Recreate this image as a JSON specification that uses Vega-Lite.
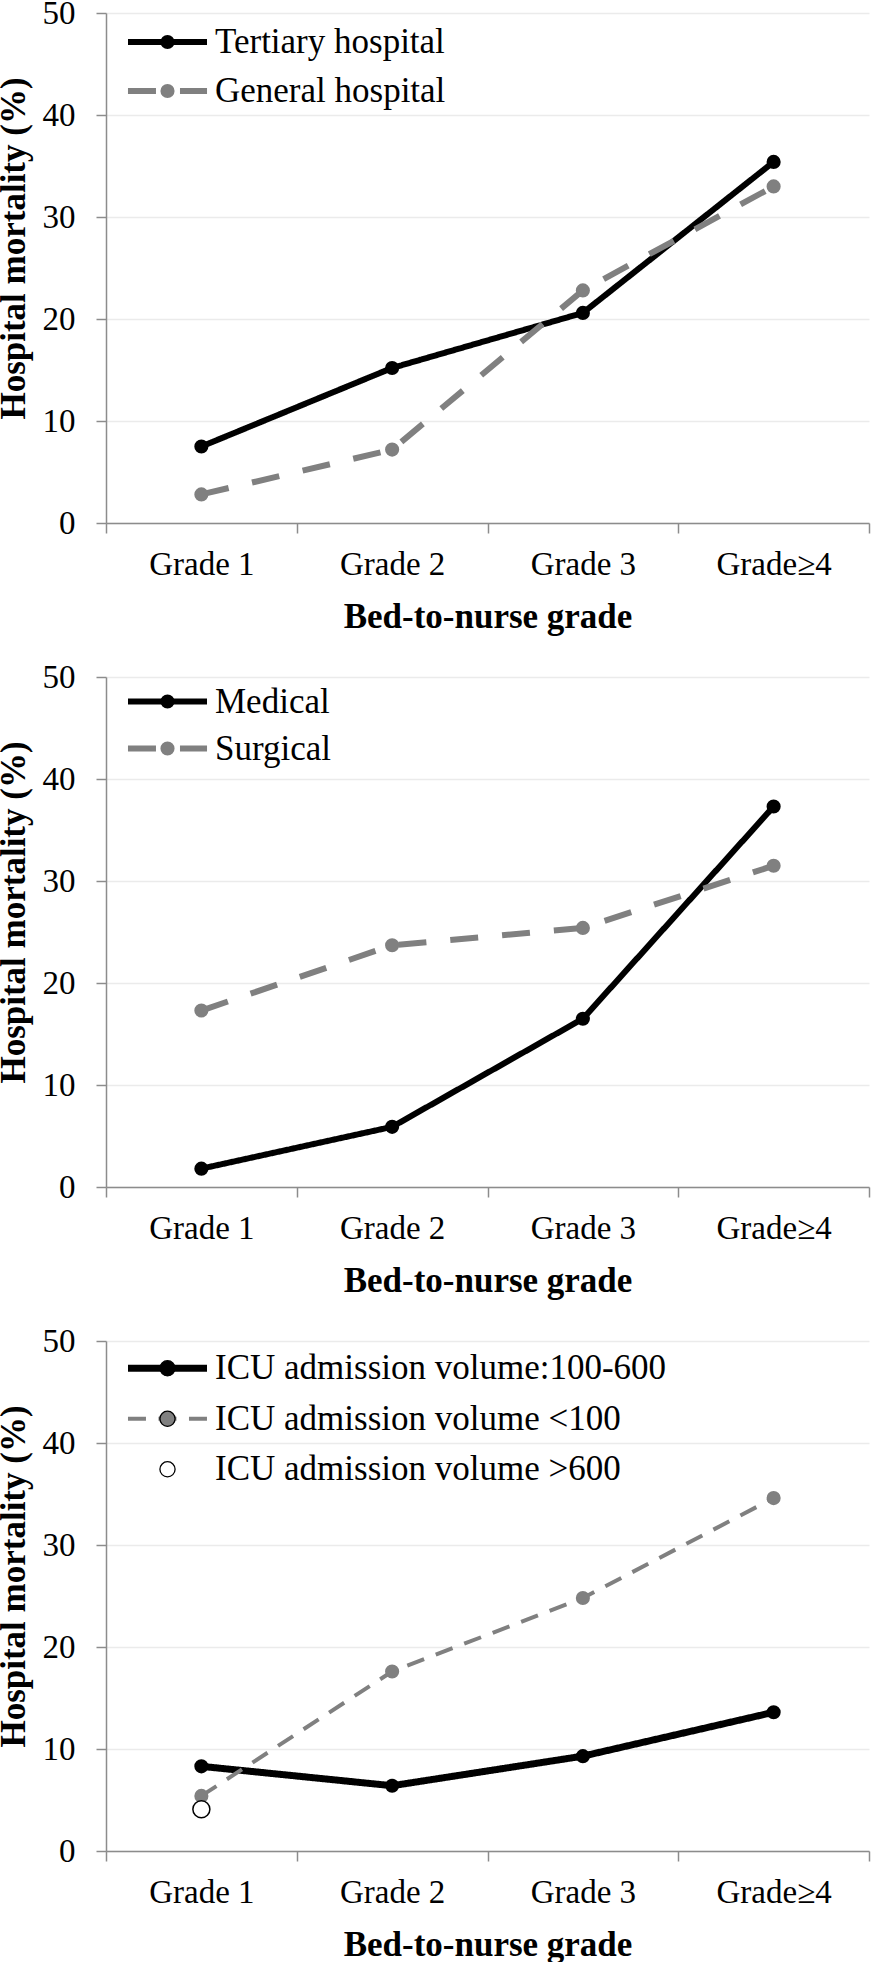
{
  "$schema": "https://vega.github.io/schema/vega-lite/v6.json",
  "padding": {"left": -4, "top": -3, "right": 4, "bottom": 0},
  "background": "white",
  "config": {
    "font": "Liberation Serif",
    "view": {"stroke": null},
    "legend": {"labelLimit": 0},
    "axisX": {
      "grid": false, "tickBand": "extent", "domainColor": "#8c8c8c", "domainWidth": 1.5,
      "tickColor": "#8c8c8c", "tickWidth": 1.5, "tickSize": 10, "labelFontSize": 33, "labelColor": "black",
      "labelPadding": 15, "labelAngle": 0, "titleFontSize": 35, "titleFontWeight": "bold",
      "titleColor": "black", "titlePadding": 18
    },
    "axisY": {
      "grid": true, "gridColor": "#ebebeb", "gridWidth": 1.5, "domainColor": "#8c8c8c", "domainWidth": 1.5,
      "tickColor": "#8c8c8c", "tickWidth": 1.5, "tickSize": 10, "labelFontSize": 33, "labelColor": "black",
      "labelPadding": 21, "titleFontSize": 35, "titleFontWeight": "bold", "titleColor": "black",
      "titlePadding": 11, "titleY": 235
    }
  },
  "spacing": 154,
  "bounds": "flush",
  "resolve": {
    "scale": {"stroke": "independent", "strokeDash": "independent", "fill": "independent", "strokeWidth": "independent", "x": "independent", "y": "independent"},
    "legend": {"stroke": "independent", "strokeDash": "independent", "fill": "independent", "strokeWidth": "independent"}
  },
  "vconcat": [
    {
      "width": 763, "height": 510,
      "data": {"values": [
        {"grade": "Grade 1", "series": "Tertiary hospital", "value": 7.5},
        {"grade": "Grade 2", "series": "Tertiary hospital", "value": 15.2},
        {"grade": "Grade 3", "series": "Tertiary hospital", "value": 20.6},
        {"grade": "Grade≥4", "series": "Tertiary hospital", "value": 35.4},
        {"grade": "Grade 1", "series": "General hospital", "value": 2.8},
        {"grade": "Grade 2", "series": "General hospital", "value": 7.2},
        {"grade": "Grade 3", "series": "General hospital", "value": 22.8},
        {"grade": "Grade≥4", "series": "General hospital", "value": 33.0}
      ]},
      "encoding": {
        "x": {"field": "grade", "type": "nominal", "sort": ["Grade 1", "Grade 2", "Grade 3", "Grade≥4"],
              "scale": {"type": "band", "paddingInner": 0, "paddingOuter": 0}, "title": "Bed-to-nurse grade"},
        "y": {"field": "value", "type": "quantitative", "scale": {"domain": [0, 50], "nice": false},
              "axis": {"values": [0, 10, 20, 30, 40, 50]}, "title": "Hospital mortality (%)"}
      },
      "layer": [
        {
          "mark": {"type": "line", "strokeCap": "butt", "strokeJoin": "round", "strokeWidth": 6},
          "encoding": {
            "stroke": {"field": "series", "type": "nominal",
              "scale": {"domain": ["Tertiary hospital", "General hospital"], "range": ["black", "#808080"]},
              "legend": {"orient": "none", "legendX": 0, "legendY": 11.5, "title": null, "padding": 0,
                "symbolType": "M-5.27,0H5.27", "symbolSize": 225, "symbolStrokeWidth": 6, "symbolOffset": 44,
                "labelOffset": 30, "labelFontSize": 35, "labelColor": "black", "rowPadding": 13}},
            "strokeDash": {"field": "series", "type": "nominal",
              "scale": {"domain": ["Tertiary hospital", "General hospital"], "range": [[1, 0], [28, 24]]},
              "legend": {"orient": "none", "legendX": 0, "legendY": 11.5, "title": null, "padding": 0,
                "symbolType": "M-5.27,0H5.27", "symbolSize": 225, "symbolStrokeWidth": 6, "symbolOffset": 44,
                "labelOffset": 30, "labelFontSize": 35, "labelColor": "black", "rowPadding": 13}}
          }
        },
        {
          "mark": {"type": "point", "filled": true, "size": 200, "opacity": 1},
          "encoding": {
            "fill": {"field": "series", "type": "nominal", "sort": ["Tertiary hospital", "General hospital"],
              "scale": {"range": ["black", "#808080"]},
              "legend": {"orient": "none", "legendX": 0, "legendY": 11.5, "title": null, "padding": 0,
                "symbolType": "circle", "symbolSize": 200, "symbolStrokeWidth": 0, "symbolOffset": 44,
                "labelOffset": 30, "labelFontSize": 35, "labelColor": "transparent", "rowPadding": 13}}
          }
        }
      ]
    },
    {
      "width": 763, "height": 510,
      "data": {"values": [
        {"grade": "Grade 1", "series": "Medical", "value": 1.8},
        {"grade": "Grade 2", "series": "Medical", "value": 5.9},
        {"grade": "Grade 3", "series": "Medical", "value": 16.5},
        {"grade": "Grade≥4", "series": "Medical", "value": 37.3},
        {"grade": "Grade 1", "series": "Surgical", "value": 17.3},
        {"grade": "Grade 2", "series": "Surgical", "value": 23.7},
        {"grade": "Grade 3", "series": "Surgical", "value": 25.4},
        {"grade": "Grade≥4", "series": "Surgical", "value": 31.5}
      ]},
      "encoding": {
        "x": {"field": "grade", "type": "nominal", "sort": ["Grade 1", "Grade 2", "Grade 3", "Grade≥4"],
              "scale": {"type": "band", "paddingInner": 0, "paddingOuter": 0}, "title": "Bed-to-nurse grade"},
        "y": {"field": "value", "type": "quantitative", "scale": {"domain": [0, 50], "nice": false},
              "axis": {"values": [0, 10, 20, 30, 40, 50]}, "title": "Hospital mortality (%)"}
      },
      "layer": [
        {
          "mark": {"type": "line", "strokeCap": "butt", "strokeJoin": "round", "strokeWidth": 6},
          "encoding": {
            "stroke": {"field": "series", "type": "nominal",
              "scale": {"domain": ["Medical", "Surgical"], "range": ["black", "#808080"]},
              "legend": {"orient": "none", "legendX": 0, "legendY": 7, "title": null, "padding": 0,
                "symbolType": "M-5.27,0H5.27", "symbolSize": 225, "symbolStrokeWidth": 6, "symbolOffset": 44,
                "labelOffset": 30, "labelFontSize": 35, "labelColor": "black", "rowPadding": 11}},
            "strokeDash": {"field": "series", "type": "nominal",
              "scale": {"domain": ["Medical", "Surgical"], "range": [[1, 0], [28, 24]]},
              "legend": {"orient": "none", "legendX": 0, "legendY": 7, "title": null, "padding": 0,
                "symbolType": "M-5.27,0H5.27", "symbolSize": 225, "symbolStrokeWidth": 6, "symbolOffset": 44,
                "labelOffset": 30, "labelFontSize": 35, "labelColor": "black", "rowPadding": 11}}
          }
        },
        {
          "mark": {"type": "point", "filled": true, "size": 200, "opacity": 1},
          "encoding": {
            "fill": {"field": "series", "type": "nominal", "sort": ["Medical", "Surgical"],
              "scale": {"range": ["black", "#808080"]},
              "legend": {"orient": "none", "legendX": 0, "legendY": 7, "title": null, "padding": 0,
                "symbolType": "circle", "symbolSize": 200, "symbolStrokeWidth": 0, "symbolOffset": 44,
                "labelOffset": 30, "labelFontSize": 35, "labelColor": "transparent", "rowPadding": 11}}
          }
        }
      ]
    },
    {
      "width": 763, "height": 510,
      "data": {"values": [
        {"grade": "Grade 1", "series": "ICU admission volume:100-600", "value": 8.3},
        {"grade": "Grade 2", "series": "ICU admission volume:100-600", "value": 6.4},
        {"grade": "Grade 3", "series": "ICU admission volume:100-600", "value": 9.3},
        {"grade": "Grade≥4", "series": "ICU admission volume:100-600", "value": 13.6},
        {"grade": "Grade 1", "series": "ICU admission volume <100", "value": 5.4},
        {"grade": "Grade 2", "series": "ICU admission volume <100", "value": 17.6},
        {"grade": "Grade 3", "series": "ICU admission volume <100", "value": 24.8},
        {"grade": "Grade≥4", "series": "ICU admission volume <100", "value": 34.6},
        {"grade": "Grade 1", "series": "ICU admission volume >600", "value": 4.1}
      ]},
      "encoding": {
        "x": {"field": "grade", "type": "nominal", "sort": ["Grade 1", "Grade 2", "Grade 3", "Grade≥4"],
              "scale": {"type": "band", "paddingInner": 0, "paddingOuter": 0}, "title": "Bed-to-nurse grade"},
        "y": {"field": "value", "type": "quantitative", "scale": {"domain": [0, 50], "nice": false},
              "axis": {"values": [0, 10, 20, 30, 40, 50]}, "title": "Hospital mortality (%)"}
      },
      "layer": [
        {
          "mark": {"type": "line", "strokeCap": "butt", "strokeJoin": "round"},
          "encoding": {
            "stroke": {"field": "series", "type": "nominal",
              "scale": {"domain": ["ICU admission volume:100-600", "ICU admission volume <100", "ICU admission volume >600"], "range": ["black", "#808080", "transparent"]},
              "legend": {"orient": "none", "legendX": 0, "legendY": 9.8, "title": null, "padding": 0,
                "symbolType": "M-5.27,0H5.27", "symbolSize": 225, "symbolOffset": 44,
                "labelOffset": 30, "labelFontSize": 35, "labelColor": "black", "rowPadding": 14.5}},
            "strokeDash": {"field": "series", "type": "nominal",
              "scale": {"domain": ["ICU admission volume:100-600", "ICU admission volume <100", "ICU admission volume >600"], "range": [[1, 0], [18, 12.5], [1, 0]]},
              "legend": {"orient": "none", "legendX": 0, "legendY": 9.8, "title": null, "padding": 0,
                "symbolType": "M-5.27,0H5.27", "symbolSize": 225, "symbolOffset": 44,
                "labelOffset": 30, "labelFontSize": 35, "labelColor": "black", "rowPadding": 14.5}},
            "strokeWidth": {"field": "series", "type": "nominal",
              "scale": {"type": "ordinal", "domain": ["ICU admission volume:100-600", "ICU admission volume <100", "ICU admission volume >600"], "range": [7, 4, 4]},
              "legend": {"orient": "none", "legendX": 0, "legendY": 9.8, "title": null, "padding": 0,
                "symbolType": "M-5.27,0H5.27", "symbolSize": 225, "symbolOffset": 44,
                "labelOffset": 30, "labelFontSize": 35, "labelColor": "black", "rowPadding": 14.5}}
          }
        },
        {
          "mark": {"type": "point", "filled": true, "opacity": 1, "strokeWidth": 1.5},
          "encoding": {
            "fill": {"field": "series", "type": "nominal", "sort": ["ICU admission volume:100-600", "ICU admission volume <100", "ICU admission volume >600"],
              "scale": {"range": ["black", "#808080", "white"]},
              "legend": {"orient": "none", "legendX": 0, "legendY": 9.8, "title": null, "padding": 0,
                "symbolType": "circle", "symbolSize": 230, "symbolStrokeWidth": 1.3, "symbolStrokeColor": "black", "symbolOffset": 44,
                "labelOffset": 30, "labelFontSize": 35, "labelColor": "transparent", "rowPadding": 14.5}},
            "stroke": {"condition": {"test": "datum.series === 'ICU admission volume >600'", "value": "black"}, "value": "transparent"},
            "size": {"condition": {"test": "datum.series === 'ICU admission volume >600'", "value": 290}, "value": 200}
          }
        }
      ]
    }
  ]
}
